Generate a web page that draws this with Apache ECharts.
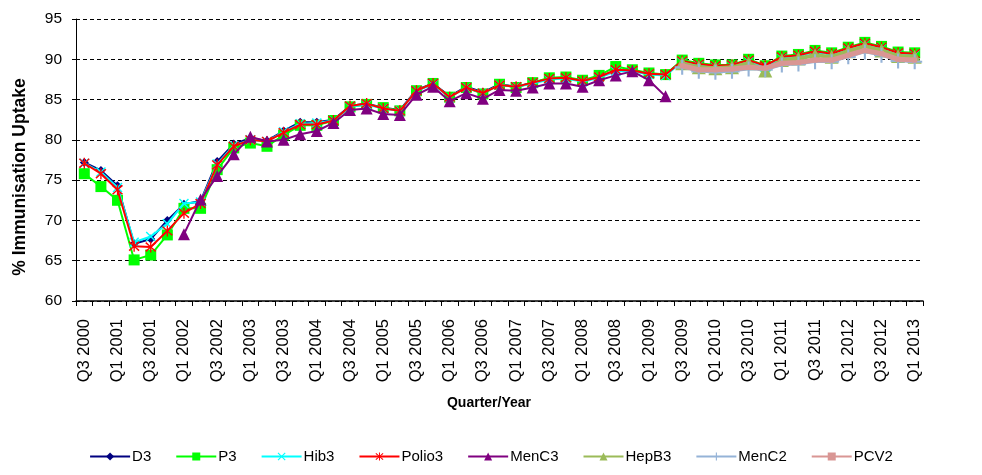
<!DOCTYPE html>
<html>
<head>
<meta charset="utf-8">
<script src="https://cdn.jsdelivr.net/npm/echarts@6/dist/echarts.min.js"></script>
<style>
html,body{margin:0;padding:0;background:#fff;}
#chart{width:982px;height:475px;}
</style>
</head>
<body>
<div id="chart"></div>
<script>
const categories = [
  'Q3 2000','Q4 2000','Q1 2001','Q2 2001','Q3 2001','Q4 2001','Q1 2002','Q2 2002','Q3 2002','Q4 2002',
  'Q1 2003','Q2 2003','Q3 2003','Q4 2003','Q1 2004','Q2 2004','Q3 2004','Q4 2004','Q1 2005','Q2 2005',
  'Q3 2005','Q4 2005','Q1 2006','Q2 2006','Q3 2006','Q4 2006','Q1 2007','Q2 2007','Q3 2007','Q4 2007',
  'Q1 2008','Q2 2008','Q3 2008','Q4 2008','Q1 2009','Q2 2009','Q3 2009','Q4 2009','Q1 2010','Q2 2010',
  'Q3 2010','Q4 2010','Q1 2011','Q2 2011','Q3 2011','Q4 2011','Q1 2012','Q2 2012','Q3 2012','Q4 2012',
  'Q1 2013'
];

const d3 = [77.2,76.2,74.3,67.1,67.7,70.0,72.0,72.4,77.3,79.5,
  80.2,79.9,81.1,82.2,82.2,82.5,84.2,84.5,84.0,83.7,
  86.2,87.0,85.4,86.6,85.9,86.9,86.6,87.1,87.6,87.7,
  87.3,87.8,88.6,88.6,88.2,88.1,
  89.8,89.4,89.2,89.2,89.9,89.1,90.3,90.5,91.0,90.7,91.4,92.0,91.5,90.8,90.7];

const p3 = [75.8,74.2,72.5,65.1,65.7,68.2,71.5,71.5,76.3,79.0,
  79.6,79.2,80.6,81.8,81.8,82.4,84.1,84.4,84.0,83.6,
  86.1,87.0,85.3,86.5,85.7,86.9,86.5,87.1,87.7,87.8,
  87.4,88.0,89.1,88.7,88.3,88.1,
  89.9,89.5,89.3,89.3,90.0,89.2,90.4,90.6,91.1,90.8,91.5,92.1,91.6,90.9,90.8];

const hib3 = [77.1,76.0,74.1,67.3,68.0,69.6,72.1,72.3,77.0,79.3,
  80.0,79.8,81.0,82.0,82.1,82.4,84.1,84.4,83.9,83.6,
  86.1,86.9,85.3,86.5,85.8,86.8,86.6,87.0,87.5,87.6,
  87.2,87.7,88.5,88.5,88.1,88.0,
  89.7,89.3,89.1,89.2,89.8,89.0,90.2,90.4,90.9,90.6,91.3,91.9,91.4,90.7,90.6];

const polio3 = [77.1,75.8,73.8,66.8,66.7,68.7,70.9,72.1,76.9,79.2,
  80.0,79.8,80.9,81.9,81.9,82.4,84.2,84.5,83.9,83.6,
  86.1,87.0,85.3,86.5,85.8,86.8,86.6,87.1,87.6,87.7,
  87.3,87.8,88.7,88.6,88.2,88.1,
  89.8,89.4,89.2,89.3,89.9,89.2,90.3,90.5,91.0,90.7,91.4,92.0,91.5,90.8,90.7];

const menC3 = [null,null,null,null,null,null,68.3,72.6,75.5,78.2,
  80.4,79.8,80.0,80.7,81.1,82.1,83.7,83.9,83.2,83.1,
  85.6,86.6,84.8,85.8,85.1,86.2,86.1,86.5,87.0,87.0,
  86.6,87.4,88.0,88.5,87.4,85.4,
  null,null,null,null,null,null,null,null,null,null,null,null,null,null,null];

const hepB3 = [null,null,null,null,null,null,null,null,null,null,
  null,null,null,null,null,null,null,null,null,null,
  null,null,null,null,null,null,null,null,null,null,
  null,null,null,null,null,null,
  89.5,89.0,88.9,89.0,89.5,88.6,89.9,90.1,90.5,90.3,91.0,91.6,91.1,90.4,90.3];

const menC2 = [null,null,null,null,null,null,null,null,null,null,
  null,null,null,null,null,null,null,null,null,null,
  null,null,null,null,null,null,null,null,null,null,
  null,null,null,null,null,null,
  89.0,88.5,88.4,88.5,88.8,88.7,89.3,89.4,89.7,89.7,90.3,90.9,90.5,89.8,89.7];

const pcv2 = [null,null,null,null,null,null,null,null,null,null,
  null,null,null,null,null,null,null,null,null,null,
  null,null,null,null,null,null,null,null,null,null,
  null,null,null,null,null,null,
  89.2,88.7,88.7,88.8,89.0,88.9,89.5,89.6,89.9,89.9,90.5,91.1,90.7,90.0,89.9];

const yTicks = [60,65,70,75,80,85,90,95];

const X_PATH = 'path://M0,1L1,0L5,4L9,0L10,1L6,5L10,9L9,10L5,6L1,10L0,9L4,5Z';
const STAR_PATH = 'path://M0,1.5L1,0.5L5,4.3L9,0.5L10,1.5L5.8,5L10,8.5L9,9.5L5,5.7L1,9.5L0,8.5L4.2,5Z M4.4,0 L5.6,0 L5.6,10 L4.4,10 Z';
const PLUS_PATH = 'path://M4.3,0L5.7,0L5.7,4.3L10,4.3L10,5.7L5.7,5.7L5.7,10L4.3,10L4.3,5.7L0,5.7L0,4.3L4.3,4.3Z';

const FONT = '"Liberation Sans", Arial, sans-serif';

function mk(name, data, color, symbol, size, width, z) {
  return {
    name: name, type: 'line', data: data,
    symbol: symbol, symbolSize: size,
    showAllSymbol: true,
    connectNulls: false,
    lineStyle: {color: color, width: width},
    itemStyle: {color: color, borderWidth: 0},
    z: z,
    emphasis: {disabled: true}
  };
}

const chart = echarts.init(document.getElementById('chart'), null, {renderer: 'canvas'});
chart.setOption({
  animation: false,
  backgroundColor: '#ffffff',
  grid: {left: 76, right: 59, top: 19, bottom: 174, containLabel: false},
  graphic: [
    {type: 'text', x: 20, y: 177, rotation: Math.PI / 2, z: 100,
      style: {text: '% Immunisation Uptake', fontFamily: FONT, fontSize: 17.5, fontWeight: 'bold',
        fill: '#000', align: 'center', verticalAlign: 'middle'}},
    {type: 'text', x: 489, y: 403, z: 100,
      style: {text: 'Quarter/Year', fontFamily: FONT, fontSize: 14, fontWeight: 'bold',
        fill: '#000', align: 'center', verticalAlign: 'middle'}}
  ],
  legend: {
    bottom: 6,
    left: 'center',
    itemWidth: 40,
    itemHeight: 10,
    itemGap: 24,
    textStyle: {fontFamily: FONT, fontSize: 15, color: '#000', padding: [0,0,0,-3]},
    data: ['D3','P3','Hib3','Polio3','MenC3','HepB3','MenC2','PCV2']
  },
  xAxis: {
    type: 'category',
    data: categories,
    boundaryGap: true,
    axisLine: {show: true, lineStyle: {color: '#000', width: 1.5}},
    axisTick: {show: true, interval: 0, length: 5, lineStyle: {color: '#000'}},
    axisLabel: {interval: 1, rotate: 90, margin: 18, fontFamily: FONT, fontSize: 16.5, color: '#000'},
    splitLine: {show: false}
  },
  yAxis: {
    type: 'value',
    min: 60, max: 95, interval: 5,
    axisLine: {show: true, lineStyle: {color: '#000', width: 1}},
    axisTick: {show: true, length: 4, lineStyle: {color: '#000'}},
    axisLabel: {margin: 14, fontFamily: FONT, fontSize: 15.5, color: '#000',
      formatter: function(v){ return yTicks.indexOf(v) >= 0 ? String(v) : ''; }},
    splitLine: {show: true, lineStyle: {color: '#000', width: 1, type: [4,3]}}
  },
  series: [
    mk('D3', d3, '#000080', 'diamond', 9, 2, 2),
    mk('P3', p3, '#00FF00', 'rect', 11, 2, 3),
    mk('Hib3', hib3, '#00FFFF', X_PATH, 10, 2, 4),
    mk('Polio3', polio3, '#FF0000', STAR_PATH, 11, 2, 5),
    mk('MenC3', menC3, '#800080', 'triangle', 12, 2, 6),
    mk('HepB3', hepB3, '#9BBB59', 'triangle', 14, 4, 7),
    mk('MenC2', menC2, '#95B3D7', PLUS_PATH, 15, 2.5, 8),
    mk('PCV2', pcv2, '#D99694', 'rect', 5, 5, 9)
  ]
});
</script>
</body>
</html>
